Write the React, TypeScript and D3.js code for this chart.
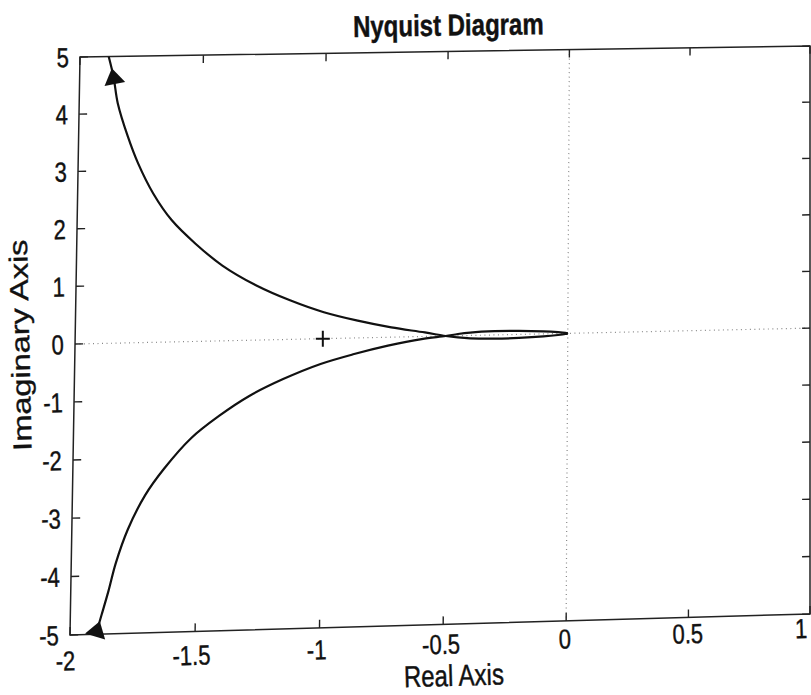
import React, { useEffect, useRef } from 'react';
import * as d3 from 'd3';

// Axis ticks
const xTicks = [-2, -1.5, -1, -0.5, 0, 0.5, 1];
const xTickLabels = ['-2', '-1.5', '-1', '-0.5', '0', '0.5', '1'];
const yTicks = [5, 4, 3, 2, 1, 0, -1, -2, -3, -4, -5];
const yTickLabels = ['5', '4', '3', '2', '1', '0', '-1', '-2', '-3', '-4', '-5'];

// Nyquist branch for positive frequencies
const upperRe = [-1.884, -1.863, -1.844, -1.801, -1.758, -1.695, -1.619, -1.521, -1.411, -1.272, -1.135, -0.997, -0.859, -0.722, -0.585, -0.5, -0.45, -0.4, -0.3, -0.2, -0.1, -0.04, -0.01, 0];
const upperIm = [5.0, 4.64, 4.175, 3.59, 3.12, 2.59, 2.12, 1.7, 1.31, 0.95, 0.68, 0.46, 0.3, 0.17, 0.07, 0.0, -0.03, -0.05, -0.065, -0.062, -0.045, -0.025, -0.01, 0];

// Branch for negative frequencies
const lowerRe = [-1.898, -1.892, -1.875, -1.849, -1.8225, -1.776, -1.709, -1.6345, -1.5265, -1.4175, -1.295, -1.159, -1.008, -0.872, -0.735, -0.598, -0.5, -0.45, -0.4, -0.3, -0.2, -0.1, -0.04, -0.01, 0];
const lowerIm = [-5.0, -4.925, -4.665, -4.26, -3.8, -3.22, -2.64, -2.19, -1.67, -1.305, -0.967, -0.688, -0.44, -0.28, -0.147, -0.044, 0.0, 0.03, 0.05, 0.065, 0.062, 0.045, 0.025, 0.01, 0];

// arrow markers: which branch, at which point, and which way it points
const arrowBranch = ['upper', 'lower'];
const arrowIndex = [1, 1];
const arrowDir = [-1, 1];

// the -1 point
const critRe = -1;
const critIm = 0;

// The scan is a bit tilted, these are the box corners on the page (TL, TR, BR, BL)
const boxCorners: [number, number][] = [[80, 57], [810, 46], [810, 614], [70, 635]];

const W = 735;
const H = 578;
const font = '"Liberation Sans", Arial, Helvetica, sans-serif';
// scan is stretched a little vertically, text included
const stretch = 1.25;

function makeWarp(c: [number, number][]) {
  const [[x0, y0], [x1, y1], [x2, y2], [x3, y3]] = c;
  const dx1 = x1 - x2, dx2 = x3 - x2, dx3 = x0 - x1 + x2 - x3;
  const dy1 = y1 - y2, dy2 = y3 - y2, dy3 = y0 - y1 + y2 - y3;
  const den = dx1 * dy2 - dx2 * dy1;
  const g = (dx3 * dy2 - dx2 * dy3) / den;
  const h = (dx1 * dy3 - dx3 * dy1) / den;
  const a = x1 - x0 + g * x1, b = x3 - x0 + h * x3;
  const d = y1 - y0 + g * y1, e = y3 - y0 + h * y3;
  return (s: number, t: number): [number, number] => {
    const w = g * s + h * t + 1;
    return [(a * s + b * t + x0) / w, (d * s + e * t + y0) / w];
  };
}

export default function App() {
  const ref = useRef<SVGSVGElement>(null);

  useEffect(() => {
    const svg = d3.select(ref.current);
    svg.selectAll('*').remove();

    const warp = makeWarp(boxCorners);
    const P = (px: number, py: number) => warp(px / W, py / H);
    const angleAt = (px: number, py: number) => {
      const [ax, ay] = P(px - 1, py);
      const [bx, by] = P(px + 1, py);
      return (Math.atan2(by - ay, bx - ax) * 180) / Math.PI;
    };

    const xScale = d3.scaleLinear().domain([-2, 1]).range([0, W]);
    const yScale = d3.scaleLinear().domain([-5, 5]).range([H, 0]);

    svg.append('rect').attr('width', 811).attr('height', 695).attr('fill', '#fff');

    const corners = [P(0, 0), P(W, 0), P(W, H), P(0, H)];
    svg.append('clipPath').attr('id', 'plot-clip')
      .append('polygon').attr('points', corners.map(p => p.join(',')).join(' '));

    // zero lines (dotted)
    const zeroLines = [
      [P(xScale(0), 0), P(xScale(0), H)],
      [P(0, yScale(0)), P(W, yScale(0))],
    ];
    svg.selectAll('.zero')
      .data(zeroLines)
      .join('line')
      .attr('class', 'zero')
      .attr('x1', d => d[0][0]).attr('y1', d => d[0][1])
      .attr('x2', d => d[1][0]).attr('y2', d => d[1][1])
      .attr('stroke', '#888')
      .attr('stroke-width', 1.2)
      .attr('stroke-dasharray', '1 3.5');

    // ticks on all four sides, pointing in
    const tl = 8;
    const tickSegs: [number, number][][] = [];
    xTicks.forEach(v => {
      const px = xScale(v);
      tickSegs.push([P(px, H), P(px, H - tl)]);
      tickSegs.push([P(px, 0), P(px, tl)]);
    });
    yTicks.forEach(v => {
      const py = yScale(v);
      tickSegs.push([P(0, py), P(tl, py)]);
      tickSegs.push([P(W, py), P(W - tl, py)]);
    });
    svg.selectAll('.tick')
      .data(tickSegs)
      .join('line')
      .attr('class', 'tick')
      .attr('x1', d => d[0][0]).attr('y1', d => d[0][1])
      .attr('x2', d => d[1][0]).attr('y2', d => d[1][1])
      .attr('stroke', '#222')
      .attr('stroke-width', 1.4);

    // box
    svg.append('polygon')
      .attr('points', corners.map(p => p.join(',')).join(' '))
      .attr('fill', 'none')
      .attr('stroke', '#222')
      .attr('stroke-width', 1.5);

    // curves
    const branches: Record<string, [number, number][]> = {
      upper: upperRe.map((r, i) => P(xScale(r), yScale(upperIm[i]))),
      lower: lowerRe.map((r, i) => P(xScale(r), yScale(lowerIm[i]))),
    };
    const line = d3.line().curve(d3.curveCatmullRom.alpha(0.5));
    const plot = svg.append('g').attr('clip-path', 'url(#plot-clip)');
    plot.selectAll('.branch')
      .data(['upper', 'lower'])
      .join('path')
      .attr('class', 'branch')
      .attr('d', k => line(branches[k]))
      .attr('fill', 'none')
      .attr('stroke', '#111')
      .attr('stroke-width', 2.2);

    // arrows
    const arrows = arrowBranch.map((b, i) => {
      const pts = branches[b];
      const k = arrowIndex[i];
      const c = pts[k];
      const fwd = pts[k + arrowDir[i]];
      const back = pts[k - arrowDir[i]];
      let ux = fwd[0] - back[0], uy = fwd[1] - back[1];
      const len = Math.hypot(ux, uy);
      ux /= len; uy /= len;
      const nx = -uy, ny = ux;
      const tip = [c[0] + ux * 9, c[1] + uy * 9];
      const bc = [c[0] - ux * 7, c[1] - uy * 7];
      return [tip, [bc[0] + nx * 10.5, bc[1] + ny * 10.5], [bc[0] - nx * 10.5, bc[1] - ny * 10.5]];
    });
    svg.selectAll('.arrow')
      .data(arrows)
      .join('polygon')
      .attr('class', 'arrow')
      .attr('points', d => d.map(p => p.join(',')).join(' '))
      .attr('fill', '#111');

    // + at -1
    const [cx, cy] = P(xScale(critRe), yScale(critIm));
    svg.append('path')
      .attr('d', `M${cx - 7},${cy}H${cx + 7}M${cx},${cy - 8}V${cy + 8}`)
      .attr('stroke', '#111')
      .attr('stroke-width', 2);

    // text helper
    const addText = (px: number, py: number, str: string, size: number, anchor: string, weight = 'normal', vertical = false) => {
      const [tx, ty] = P(px, py);
      const rot = angleAt(px, py) + (vertical ? -90 : 0);
      const sc = vertical ? `scale(${stretch},1)` : `scale(1,${stretch})`;
      svg.append('text')
        .attr('transform', `translate(${tx},${ty}) rotate(${rot}) ${sc}`)
        .attr('text-anchor', anchor)
        .attr('dominant-baseline', 'central')
        .attr('font-family', font)
        .attr('font-size', size)
        .attr('font-weight', weight)
        .attr('fill', '#111')
        .attr('stroke', '#111')
        .attr('stroke-width', 0.35)
        .text(str);
    };

    xTicks.forEach((v, i) => {
      const px = xScale(v);
      const s = px / W;
      // last label sits right at the page edge, pull it in a bit so it stays whole
      const shift = px >= W ? -9 : -4 * (1 - s);
      addText(px + shift, H + 25 - 11 * s, xTickLabels[i], 22, 'middle');
    });
    yTicks.forEach((v, i) => {
      addText(-11, yScale(v), yTickLabels[i], 22, 'end');
    });

    addText(W * 0.5, -27, 'Nyquist Diagram', 24, 'middle', 'bold');
    addText(W * 0.515, H + 51, 'Real Axis', 24, 'middle');
    addText(-54, H * 0.5, 'Imaginary Axis', 26, 'middle', 'normal', true);
  }, []);

  return (
    <svg
      ref={ref}
      width={811}
      height={695}
      style={{ position: 'absolute', left: 0, top: 0, display: 'block' }}
    />
  );
}
